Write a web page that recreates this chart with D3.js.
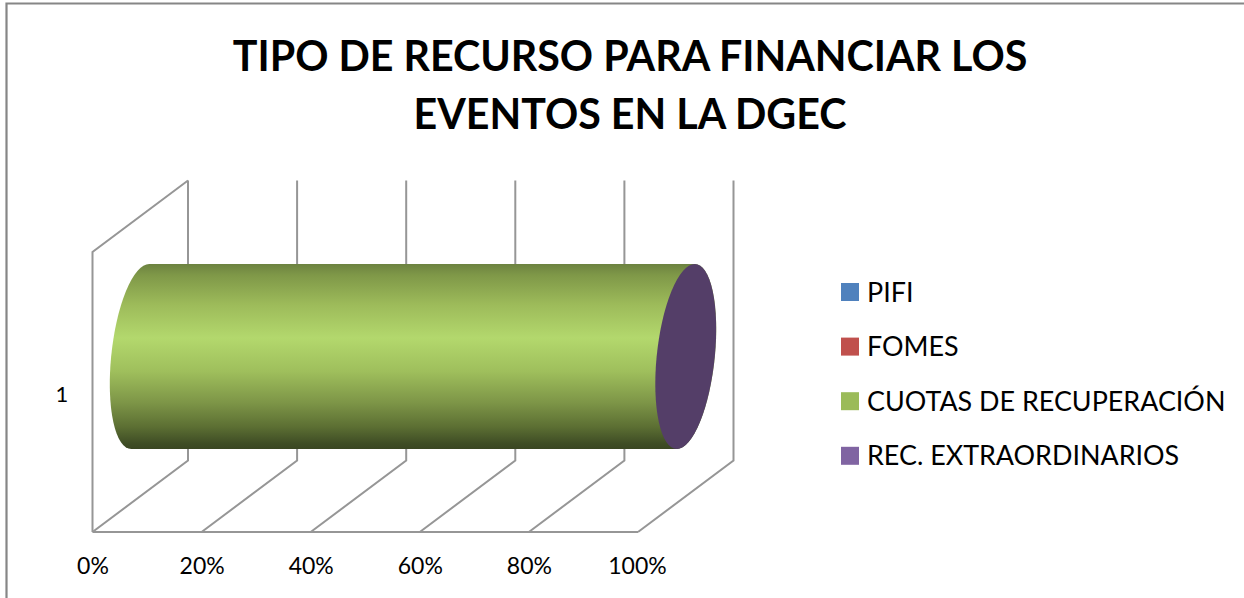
<!DOCTYPE html>
<html><head><meta charset="utf-8">
<script src="https://cdn.jsdelivr.net/npm/d3@7"></script>
<style>html,body{margin:0;padding:0;background:#fff}svg{display:block}text{font-family:Lato,"Open Sans",sans-serif;fill:#000}</style>
</head><body><svg id="c" width="1244" height="598"></svg>
<script>
const titleLines = ["TIPO DE RECURSO PARA FINANCIAR LOS", "EVENTOS EN LA DGEC"];
const category = ["1"];
const seriesNames = ["PIFI", "FOMES", "CUOTAS DE RECUPERACIÓN", "REC. EXTRAORDINARIOS"];
const seriesValues = [0, 0, 100, 0];
const legendColors = ["#4f81bd", "#c0504d", "#9bbb59", "#8064a2"];
const capColors = ["#9bbb59", "#9bbb59", "#9bbb59", "#543e68"];
const tickValues = [0, 20, 40, 60, 80, 100];

const svg = d3.select("#c");
const frontX = d3.scaleLinear().domain([0, 100]).range([92.5, 638]);
const depthDX = 95.5, depthDY = -71.5;
const floorY = 532, wallH = 280;
const midX = v => frontX(v) + depthDX / 2;
const yBand = d3.scaleBand().domain(category).range([264, 449]);
const grid = "#969696";

// frame
svg.append("path").attr("d", "M1244,3.5H6.5V598").attr("fill", "none").attr("stroke", "#868686").attr("stroke-width", 2.2);

// title
svg.append("g").selectAll("text").data(titleLines).join("text")
  .attr("x", 630).attr("y", (d, i) => 71 + i * 58).attr("text-anchor", "middle")
  .attr("font-size", 41.2).attr("font-weight", 700).text(d => d);

// walls and gridlines
const g3d = svg.append("g").attr("fill", "none").attr("stroke", grid).attr("stroke-width", 2);
g3d.append("path").attr("d",
  `M${frontX(0)},${floorY}V${floorY - wallH}L${frontX(0) + depthDX},${floorY - wallH + depthDY}`);
g3d.append("path").attr("d", `M${frontX(0)},${floorY}H${frontX(100)}`);
g3d.selectAll(".gl").data(tickValues).join("path").attr("class", "gl")
  .attr("d", v => `M${frontX(v)},${floorY}l${depthDX},${depthDY}v${-wallH}`);

// gradient for the cylinder body
const stops = [[0, "#6c8240"], [.06, "#7f9848"], [.22, "#9dbb5a"], [.4, "#b3d86d"], [.58, "#9fbf5c"], [.75, "#7d9547"], [.88, "#5c6f33"], [.97, "#3f4d25"], [1, "#3a4622"]];
const lg = svg.append("defs").append("linearGradient").attr("id", "cyl")
  .attr("x1", 0).attr("x2", 0).attr("y1", 0).attr("y2", 1);
lg.selectAll("stop").data(stops).join("stop").attr("offset", d => d[0]).attr("stop-color", d => d[1]);

// cylinder, stacked from the series values
const ry = yBand.bandwidth() / 2, cy = yBand("1") + ry, rx = 29.1, shear = 18 / 185;
const skew = -Math.atan(shear) * 180 / Math.PI;
const cyl = svg.append("g").attr("transform", `translate(0,${cy}) skewX(${skew})`);
const stack = d3.cumsum(seriesValues);
const segs = seriesValues.map((v, i) => ({ v, i, x0: midX(stack[i] - v), x1: midX(stack[i]) }));
cyl.selectAll("path.seg").data(segs.filter(s => s.v > 0)).join("path").attr("class", "seg")
  .attr("d", s => `M${s.x0},${-ry}A${rx},${ry} 0 0 0 ${s.x0},${ry}L${s.x1},${ry}A${rx},${ry} 0 0 0 ${s.x1},${-ry}Z`)
  .attr("fill", "url(#cyl)");
const last = segs[segs.length - 1];
cyl.append("ellipse").attr("cx", last.x1).attr("cy", 0).attr("rx", rx).attr("ry", ry)
  .attr("fill", capColors[last.i]);

// axes
const axisX = svg.append("g").attr("transform", "translate(0,566)")
  .call(d3.axisBottom(frontX).tickValues(tickValues).tickSize(0).tickPadding(0).tickFormat(d => d + "%"));
axisX.select(".domain").remove();
axisX.selectAll("text").attr("y", 0).attr("dy", "8px").attr("font-size", 23).attr("font-family", "Lato").attr("dx", d => d === 100 ? -1 : 0);
svg.append("text").attr("x", 62).attr("y", 402).attr("text-anchor", "middle").attr("font-size", 22).text(category[0]);

// legend
const leg = svg.append("g").selectAll("g").data(seriesNames).join("g")
  .attr("transform", (d, i) => `translate(841,${283 + i * 54.6})`);
leg.append("rect").attr("width", 18).attr("height", 18).attr("fill", (d, i) => legendColors[i]);
leg.append("text").attr("x", 26).attr("y", 18.5).attr("font-size", 26.9).text(d => d);
</script></body></html>
